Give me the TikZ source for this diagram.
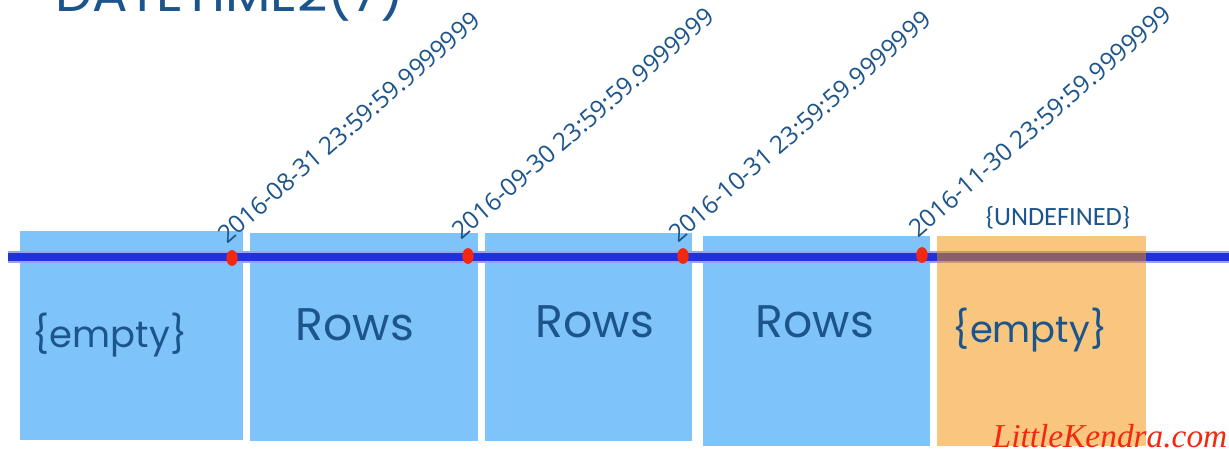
\documentclass[tikz,border=0pt]{standalone}
\usepackage{fontspec}
\setmainfont{Open Sans}
\newfontfamily\handfont{Poppins}
\newfontfamily\capfont{Carlito}
\newfontfamily\sigfont{Liberation Serif}
\usetikzlibrary{positioning,calc,shapes.geometric}
\definecolor{rowblue}{RGB}{126,196,250}
\definecolor{lateorange}{RGB}{243,141,0}
\definecolor{lineblue}{RGB}{32,48,220}
\definecolor{inkblue}{RGB}{28,84,140}
\definecolor{dotred}{RGB}{242,40,15}

\begin{document}
\begin{tikzpicture}
[x=0.02cm,y=-0.02cm,
part/.style={fill=rowblue,inner sep=0pt},
hand/.style={text=inkblue,font=\handfont\fontsize{26}{30}\selectfont},
stamp/.style={text=inkblue,font=\fontsize{14}{16}\selectfont,rotate=41,anchor=base west,inner sep=0pt},
dotmark/.style={ellipse,fill=dotred,inner sep=0pt,minimum width=6.5pt,minimum height=9pt}]
\clip (0,0) rectangle (1229,459);
\node (title) [anchor=base west,inner sep=0pt,text=inkblue,font=\handfont\fontsize{30}{34}\selectfont] at (55,12) {DATETIME2(7)};
%%
\node (p1) [part,minimum width=4.46cm,minimum height=4.18cm] at (131.5,335.5) {};
\node (p2) [part,minimum width=4.56cm,minimum height=4.16cm] at (364,337) {};
\node (p3) [part,minimum width=4.14cm,minimum height=4.16cm] at (588.5,337) {};
\node (p4) [part,minimum width=4.54cm,minimum height=4.2cm] at (816.5,341) {};
%%
\coordinate (left) at (8,257);
\coordinate (right) at (1229,257);
\draw[lineblue!45,line width=6.5pt] (left) -- (right);
\draw[lineblue,line width=4pt] (left) -- (right);
%%
\node (p5) [fill=lateorange,fill opacity=.5,inner sep=0pt,minimum width=4.18cm,minimum height=4.2cm] at (1041.5,341) {};
%%
\node (e1) [hand,font=\handfont\fontsize{21}{24}\selectfont] at (110,335) {\{empty\}};
\node (r2) [hand] at (355,325) {Rows};
\node (r3) [hand] at (595,322) {Rows};
\node (r4) [hand] at (815,322) {Rows};
\node (e5) [hand,font=\handfont\fontsize{21}{24}\selectfont] at (1030,330) {\{empty\}};
%%
\node (d1) [dotmark] at (232,258) {};
\node (d2) [dotmark] at (468,256) {};
\node (d3) [dotmark] at (683,256) {};
\node (d4) [dotmark] at (922,255) {};
%%
\node (t1) [stamp] at ([shift={(-5,-13)}]d1.center) {2016-08-31 23:59:59.9999999};
\node (t2) [stamp] at ([shift={(-7,-15)}]d2.center) {2016-09-30 23:59:59.9999999};
\node (t3) [stamp] at ([shift={(-5,-12)}]d3.center) {2016-10-31 23:59:59.9999999};
\node (t4) [stamp] at ([shift={(-4,-16)}]d4.center) {2016-11-30 23:59:59.9999999};
%%
\node (undef) [text=inkblue,font=\capfont\fontsize{15}{18}\selectfont] at (1058,218) {\{UNDEFINED\}};
\node (sig) [text=dotred,font=\sigfont\itshape\fontsize{19}{22}\selectfont] at (1110,436) {LittleKendra.com};
%%
\end{tikzpicture}
\end{document}
